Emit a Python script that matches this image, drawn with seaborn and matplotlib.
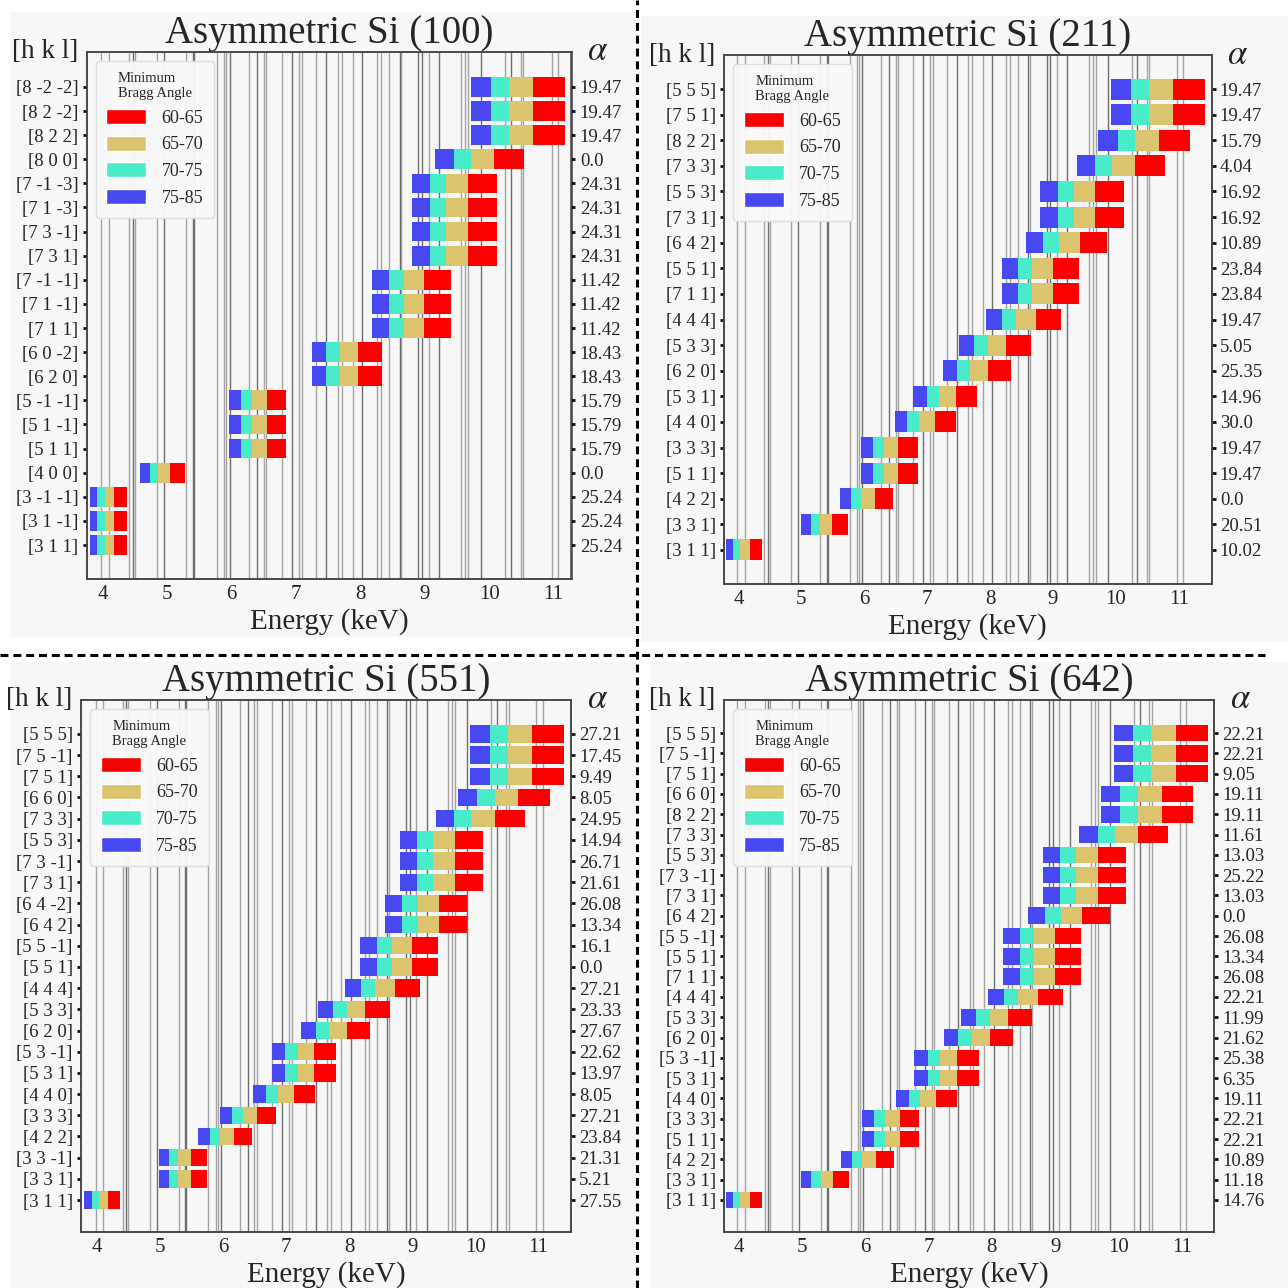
import matplotlib
matplotlib.use("Agg")
import matplotlib.pyplot as plt
from matplotlib.lines import Line2D
from matplotlib.patches import Patch, Rectangle
from matplotlib.ticker import MultipleLocator
import seaborn as sns

# --- Data ---
# angle bins, left to right inside each bar
BIN_LABELS = ['75-85', '70-75', '65-70', '60-65']
BIN_COLORS = ['#4848F2', '#48ECC8', '#DCC46E', '#FA0000']

# segment edges (keV) for each reflection family, keyed by h^2+k^2+l^2
EDGES = {
    11: [3.800, 3.919, 4.029, 4.177, 4.371],
    16: [4.583, 4.727, 4.859, 5.038, 5.272],
    19: [4.994, 5.151, 5.295, 5.490, 5.745],
    24: [5.613, 5.789, 5.951, 6.170, 6.457],
    27: [5.954, 6.140, 6.312, 6.544, 6.848],
    32: [6.481, 6.685, 6.871, 7.124, 7.456],
    35: [6.778, 6.991, 7.186, 7.451, 7.797],
    40: [7.246, 7.474, 7.682, 7.965, 8.336],
    43: [7.513, 7.749, 7.965, 8.258, 8.643],
    48: [7.938, 8.187, 8.415, 8.725, 9.131],
    51: [8.182, 8.439, 8.674, 8.994, 9.412],
    56: [8.574, 8.843, 9.090, 9.425, 9.863],
    59: [8.801, 9.077, 9.330, 9.674, 10.124],
    64: [9.166, 9.453, 9.717, 10.075, 10.544],
    67: [9.379, 9.672, 9.942, 10.309, 10.788],
    72: [9.722, 10.027, 10.307, 10.687, 11.183],
    75: [9.923, 10.234, 10.519, 10.907, 11.414],
}

# emission line energies drawn as vertical lines (keV)
LINES_STRONG = [4.47, 4.95, 5.40, 5.42, 5.97, 6.40, 6.94, 7.47, 8.03, 8.61,
                8.90, 8.96, 9.23, 9.87, 10.34]
LINES_WEAK = [3.98, 4.10, 4.41, 4.50, 4.84, 5.30, 5.77, 5.89, 5.92, 6.27, 6.50,
              6.54, 6.78, 7.05, 7.09, 7.32, 7.65, 7.71, 7.88, 8.26, 8.32, 8.45,
              8.64, 9.06, 9.57, 9.63, 9.68, 10.25, 10.49, 10.53, 10.97, 11.07]

# rows listed top to bottom
P1_HKL = ['[8 -2 -2]', '[8 2 -2]', '[8 2 2]', '[8 0 0]', '[7 -1 -3]', '[7 1 -3]',
          '[7 3 -1]', '[7 3 1]', '[7 -1 -1]', '[7 1 -1]', '[7 1 1]', '[6 0 -2]',
          '[6 2 0]', '[5 -1 -1]', '[5 1 -1]', '[5 1 1]', '[4 0 0]', '[3 -1 -1]',
          '[3 1 -1]', '[3 1 1]']
P1_ALPHA = ['19.47', '19.47', '19.47', '0.0', '24.31', '24.31', '24.31', '24.31',
            '11.42', '11.42', '11.42', '18.43', '18.43', '15.79', '15.79', '15.79',
            '0.0', '25.24', '25.24', '25.24']

P2_HKL = ['[5 5 5]', '[7 5 1]', '[8 2 2]', '[7 3 3]', '[5 5 3]', '[7 3 1]', '[6 4 2]',
          '[5 5 1]', '[7 1 1]', '[4 4 4]', '[5 3 3]', '[6 2 0]', '[5 3 1]', '[4 4 0]',
          '[3 3 3]', '[5 1 1]', '[4 2 2]', '[3 3 1]', '[3 1 1]']
P2_ALPHA = ['19.47', '19.47', '15.79', '4.04', '16.92', '16.92', '10.89', '23.84',
            '23.84', '19.47', '5.05', '25.35', '14.96', '30.0', '19.47', '19.47',
            '0.0', '20.51', '10.02']

P3_HKL = ['[5 5 5]', '[7 5 -1]', '[7 5 1]', '[6 6 0]', '[7 3 3]', '[5 5 3]', '[7 3 -1]',
          '[7 3 1]', '[6 4 -2]', '[6 4 2]', '[5 5 -1]', '[5 5 1]', '[4 4 4]', '[5 3 3]',
          '[6 2 0]', '[5 3 -1]', '[5 3 1]', '[4 4 0]', '[3 3 3]', '[4 2 2]', '[3 3 -1]',
          '[3 3 1]', '[3 1 1]']
P3_ALPHA = ['27.21', '17.45', '9.49', '8.05', '24.95', '14.94', '26.71', '21.61',
            '26.08', '13.34', '16.1', '0.0', '27.21', '23.33', '27.67', '22.62',
            '13.97', '8.05', '27.21', '23.84', '21.31', '5.21', '27.55']

P4_HKL = ['[5 5 5]', '[7 5 -1]', '[7 5 1]', '[6 6 0]', '[8 2 2]', '[7 3 3]', '[5 5 3]',
          '[7 3 -1]', '[7 3 1]', '[6 4 2]', '[5 5 -1]', '[5 5 1]', '[7 1 1]', '[4 4 4]',
          '[5 3 3]', '[6 2 0]', '[5 3 -1]', '[5 3 1]', '[4 4 0]', '[3 3 3]', '[5 1 1]',
          '[4 2 2]', '[3 3 1]', '[3 1 1]']
P4_ALPHA = ['22.21', '22.21', '9.05', '19.11', '19.11', '11.61', '13.03', '25.22',
            '13.03', '0.0', '26.08', '13.34', '26.08', '22.21', '11.99', '21.62',
            '25.38', '6.35', '19.11', '22.21', '22.21', '10.89', '11.18', '14.76']

W, H = 1288, 1288
BG = '#f7f7f7'

# layout in pixels: (left, top, right, bottom), x limits, row padding (bottom, top)
PANELS = [
    ('Asymmetric Si (100)', P1_HKL, P1_ALPHA, (86.6, 52, 571.5, 579), (3.75, 11.28), (1.41, 1.45)),
    ('Asymmetric Si (211)', P2_HKL, P2_ALPHA, (724, 55, 1211.5, 584), (3.77, 11.52), (1.33, 1.33)),
    ('Asymmetric Si (551)', P3_HKL, P3_ALPHA, (81, 700, 571, 1232), (3.75, 11.52), (1.51, 1.60)),
    ('Asymmetric Si (642)', P4_HKL, P4_ALPHA, (724, 700, 1214, 1232), (3.77, 11.51), (1.58, 1.63)),
]


def family(label):
    idx = [int(v) for v in label.strip('[]').split()]
    return sum(v * v for v in idx)


def draw_panel(fig, title, hkl, alphas, box, xlim, pad):
    left, top, right, bottom = box
    ax = fig.add_axes([left / W, 1 - bottom / H, (right - left) / W, (bottom - top) / H])
    ax.set_facecolor(BG)
    n = len(hkl)
    ypos = [n - 1 - i for i in range(n)]

    sns.rugplot(x=LINES_WEAK, height=1, ax=ax, color='#a4a4a4', lw=1.1, zorder=1)
    sns.rugplot(x=LINES_STRONG, height=1, ax=ax, color='#6e6e6e', lw=1.5, zorder=1)

    for label, y in zip(hkl, ypos):
        e = EDGES[family(label)]
        for j in range(4):
            ax.barh(y, e[j + 1] - e[j], left=e[j], height=0.82,
                    color=BIN_COLORS[j], lw=0, zorder=2)

    ax.set_xlim(*xlim)
    ax.set_ylim(-pad[0], n - 1 + pad[1])
    ax.set_yticks(ypos)
    ax.set_yticklabels(hkl)
    ax.set_xticks(range(4, 12))
    ax.xaxis.set_minor_locator(MultipleLocator(0.5))
    ax.tick_params(axis='x', which='major', direction='in', length=4, width=2,
                   labelsize=15, pad=4, color='#111111')
    ax.tick_params(axis='x', which='minor', direction='in', length=2.5, width=1.5,
                   color='#111111')
    ax.tick_params(axis='y', direction='out', length=3, width=2, labelsize=13.5,
                   pad=3, color='#111111')
    ax.set_xlabel('Energy (keV)', fontsize=21, labelpad=3)
    ax.set_title(title, fontsize=28, pad=3)
    for s in ax.spines.values():
        s.set_color('#444444')
        s.set_linewidth(1.1)

    ax2 = ax.twinx()
    ax2.set_ylim(ax.get_ylim())
    ax2.set_yticks(ypos)
    ax2.set_yticklabels(alphas)
    ax2.tick_params(axis='y', direction='out', length=3, width=2, labelsize=13.5,
                    pad=3, color='#111111')
    for s in ax2.spines.values():
        s.set_color('#444444')
        s.set_linewidth(1.1)

    handles = [Patch(facecolor=BIN_COLORS[j], label=BIN_LABELS[j]) for j in (3, 2, 1, 0)]
    leg = ax.legend(handles=handles, title='Minimum\nBragg Angle', loc='upper left',
                    fontsize=13, title_fontsize=10.5, handlelength=2.2,
                    handleheight=0.9, handletextpad=0.85, labelspacing=0.5,
                    borderpad=0.6, frameon=True, framealpha=0.95,
                    facecolor='#f9f9f9', edgecolor='#dddddd')
    leg.set_zorder(5)

    ax.annotate('[h k l]', xy=(0, 1), xycoords='axes fraction', xytext=(-6, 0),
                textcoords='offset points', ha='right', va='center', fontsize=19.5)
    ax.annotate(r'$\alpha$', xy=(1, 1), xycoords='axes fraction', xytext=(19, 0),
                textcoords='offset points', ha='center', va='center', fontsize=25)


sns.set_theme(style='white')
plt.rcParams['font.family'] = ['Liberation Serif', 'DejaVu Serif']
plt.rcParams['mathtext.fontset'] = 'stix'

fig = plt.figure(figsize=(W / 100, H / 100), dpi=100)
fig.patch.set_facecolor('white')

# light panel backgrounds
for x0, y0, x1, y1 in [(10, 12, 636, 637), (641, 16, 1288, 642),
                       (10, 662, 636, 1288), (650, 662, 1288, 1288)]:
    fig.add_artist(Rectangle((x0 / W, 1 - y1 / H), (x1 - x0) / W, (y1 - y0) / H,
                             transform=fig.transFigure, facecolor=BG,
                             edgecolor='none', zorder=-5))

for title, hkl, alphas, box, xlim, pad in PANELS:
    draw_panel(fig, title, hkl, alphas, box, xlim, pad)

# dashed separators
fig.add_artist(Line2D([637 / W, 637 / W], [0, 1], transform=fig.transFigure,
                      color='black', lw=2.2, ls=(0, (2.6, 1.6)), zorder=10))
fig.add_artist(Line2D([0, 1265 / W], [1 - 655 / H, 1 - 655 / H],
                      transform=fig.transFigure, color='black', lw=2.2,
                      ls=(0, (2.6, 1.6)), zorder=10))

fig.savefig('out.png', dpi=100)
